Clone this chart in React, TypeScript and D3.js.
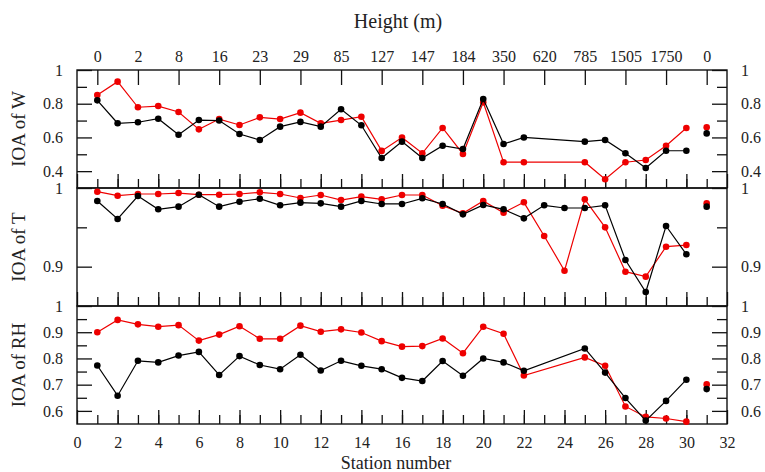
import React, { useEffect, useRef } from 'react';
import * as d3 from 'd3';

// station numbers along the x axis
const stations = [1, 2, 3, 4, 5, 6, 7, 8, 9, 10, 11, 12, 13, 14, 15, 16, 17, 18, 19, 20, 21, 22, 23, 24, 25, 26, 27, 28, 29, 30, 31];

// station heights shown on the top axis
const heightStations = [1, 3, 5, 7, 9, 11, 13, 15, 17, 19, 21, 23, 25, 27, 29, 31];
const heightLabels = ['0', '2', '8', '16', '23', '29', '85', '127', '147', '184', '350', '620', '785', '1505', '1750', '0'];

const bottomTicks = [0, 2, 4, 6, 8, 10, 12, 14, 16, 18, 20, 22, 24, 26, 28, 30, 32];

// IOA values (null = no data)
const wBlack = [0.82, 0.684, 0.69, 0.711, 0.616, 0.703, 0.70, 0.62, 0.585, 0.664, 0.692, 0.664, 0.767, 0.672, 0.478, 0.575, 0.478, 0.551, 0.531, 0.828, 0.561, 0.60, null, null, 0.575, 0.585, 0.506, 0.419, 0.521, 0.521, 0.624];
const wRed = [0.852, 0.931, 0.779, 0.786, 0.751, 0.648, 0.709, 0.674, 0.719, 0.709, 0.747, 0.684, 0.703, 0.723, 0.52, 0.60, 0.506, 0.656, 0.502, 0.808, 0.453, 0.453, null, null, 0.453, 0.352, 0.453, 0.466, 0.551, 0.656, 0.66];

const tBlack = [0.9835, 0.9606, 0.9898, 0.9729, 0.9763, 0.9915, 0.9763, 0.9826, 0.9864, 0.978, 0.9814, 0.9805, 0.9763, 0.9835, 0.9797, 0.9797, 0.9869, 0.9797, 0.9665, 0.9784, 0.9729, 0.9614, 0.978, 0.9746, 0.9746, 0.978, 0.9085, 0.8678, 0.9517, 0.9157, 0.9763];
const tRed = [0.9953, 0.9902, 0.9924, 0.9924, 0.9936, 0.9915, 0.9915, 0.9924, 0.9945, 0.9924, 0.9873, 0.9911, 0.9847, 0.989, 0.9856, 0.9911, 0.9911, 0.9775, 0.9678, 0.9835, 0.9686, 0.9818, 0.939, 0.8949, 0.9856, 0.95, 0.8936, 0.8873, 0.9254, 0.9275, 0.9805];

const rhBlack = [0.773, 0.658, 0.791, 0.785, 0.811, 0.825, 0.737, 0.809, 0.775, 0.759, 0.814, 0.754, 0.791, 0.772, 0.759, 0.726, 0.714, 0.79, 0.734, 0.80, 0.785, 0.753, null, null, 0.838, 0.746, 0.649, 0.563, 0.638, 0.719, 0.683];
const rhRed = [0.90, 0.947, 0.930, 0.921, 0.927, 0.868, 0.891, 0.923, 0.875, 0.875, 0.925, 0.902, 0.911, 0.899, 0.866, 0.845, 0.847, 0.876, 0.82, 0.921, 0.894, 0.735, null, null, 0.804, 0.772, 0.617, 0.577, 0.571, 0.559, 0.701];

const FONT = '"Liberation Serif", "DejaVu Serif", serif';

const App = () => {
  const ref = useRef(null);

  useEffect(() => {
    const svg = d3.select(ref.current);
    svg.selectAll('*').remove();

    const left = 77, right = 727, ph = 118;
    const x = d3.scaleLinear().domain([0, 32]).range([left, right]);

    const panels = [
      { top: 70, domain: [0.3, 1], major: [0.4, 0.6, 0.8, 1], minor: [0.5, 0.7, 0.9], title: 'IOA of W', black: wBlack, red: wRed },
      { top: 188, domain: [0.85, 1], major: [0.9, 1], minor: [0.95], title: 'IOA of T', black: tBlack, red: tRed },
      { top: 306, domain: [0.55, 1], major: [0.6, 0.7, 0.8, 0.9, 1], minor: [0.65, 0.75, 0.85, 0.95], title: 'IOA of RH', black: rhBlack, red: rhRed },
    ];

    const fmt = d => (d === 1 ? '1' : d3.format('.1f')(d));

    panels.forEach((p, i) => {
      const y = d3.scaleLinear().domain(p.domain).range([p.top + ph, p.top]);
      const g = svg.append('g');

      // y axes, ticks pointing inward
      const axes = [
        g.append('g').attr('transform', `translate(${left},0)`)
          .call(d3.axisLeft(y).tickValues(p.major).tickSize(-15).tickPadding(14).tickFormat(fmt)),
        g.append('g').attr('transform', `translate(${left},0)`)
          .call(d3.axisLeft(y).tickValues(p.minor).tickSize(-10).tickFormat(() => '')),
        g.append('g').attr('transform', `translate(${right},0)`)
          .call(d3.axisRight(y).tickValues(p.major).tickSize(-15).tickPadding(14).tickFormat(fmt)),
        g.append('g').attr('transform', `translate(${right},0)`)
          .call(d3.axisRight(y).tickValues(p.minor).tickSize(-10).tickFormat(() => '')),
        // bottom edge: major even, minor odd
        g.append('g').attr('transform', `translate(0,${p.top + ph})`)
          .call(d3.axisBottom(x).tickValues(bottomTicks).tickSize(-14)
            .tickFormat(i === 2 ? d3.format('d') : () => '').tickPadding(13)),
        g.append('g').attr('transform', `translate(0,${p.top + ph})`)
          .call(d3.axisBottom(x).tickValues(stations).tickSize(-9).tickFormat(() => '')),
      ];
      if (i === 0) {
        axes.push(
          g.append('g').attr('transform', `translate(0,${p.top})`)
            .call(d3.axisTop(x).tickValues(heightStations).tickSize(-15).tickPadding(8)
              .tickFormat((d, k) => heightLabels[k]))
        );
      }
      axes.forEach(a => {
        a.select('.domain').remove();
        a.selectAll('line').attr('stroke', '#111').attr('stroke-width', 1.3);
        a.selectAll('text').attr('font-family', FONT).attr('font-size', 16).attr('fill', '#222');
      });

      g.append('rect')
        .attr('x', left).attr('y', p.top).attr('width', right - left).attr('height', ph)
        .attr('fill', 'none').attr('stroke', '#111').attr('stroke-width', 1.4);

      g.append('text')
        .attr('transform', `translate(25,${p.top + ph / 2}) rotate(-90)`)
        .attr('text-anchor', 'middle')
        .attr('font-family', FONT).attr('font-size', 19).attr('fill', '#222')
        .text(p.title);

      const series = [
        { vals: p.red, color: '#ee0000' },
        { vals: p.black, color: '#000000' },
      ];
      series.forEach(s => {
        const pts = stations.map((st, k) => ({ st, v: s.vals[k] }));
        const line = d3.line()
          .x(d => x(d.st))
          .y(d => y(d.v));
        g.append('path')
          .datum(pts.filter(d => d.st <= 30 && d.v != null))
          .attr('d', line)
          .attr('fill', 'none').attr('stroke', s.color).attr('stroke-width', 1.2);
        g.append('g').selectAll('circle')
          .data(pts.filter(d => d.v != null))
          .enter().append('circle')
          .attr('cx', d => x(d.st))
          .attr('cy', d => y(d.v))
          .attr('r', 3.3)
          .attr('fill', s.color);
      });
    });

    svg.append('text')
      .attr('x', 398).attr('y', 28)
      .attr('text-anchor', 'middle')
      .attr('font-family', FONT).attr('font-size', 20).attr('fill', '#222')
      .text('Height (m)');

    svg.append('text')
      .attr('x', 396).attr('y', 469)
      .attr('text-anchor', 'middle')
      .attr('font-family', FONT).attr('font-size', 18).attr('fill', '#222')
      .text('Station number');
  }, []);

  return (
    <svg ref={ref} width={765} height={472}
      style={{ position: 'absolute', left: 0, top: 0, background: '#fff' }} />
  );
};

export default App;
